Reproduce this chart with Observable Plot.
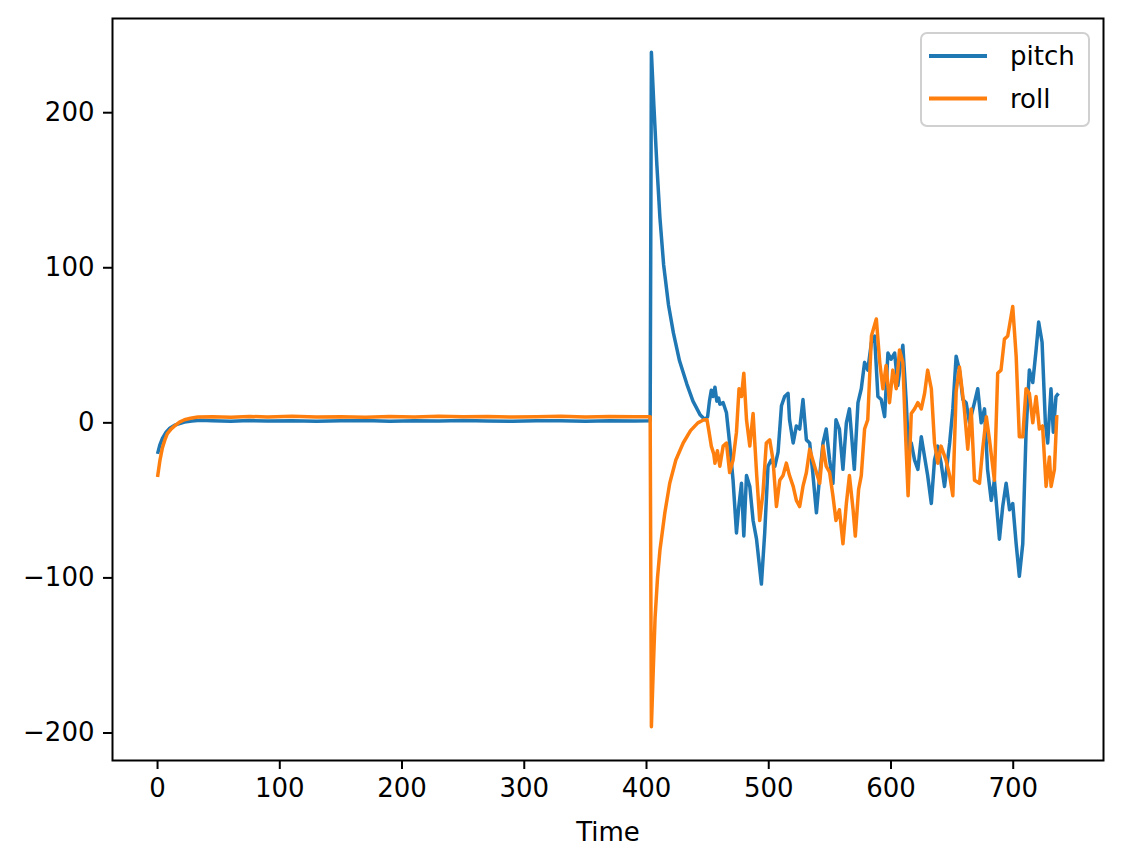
<!DOCTYPE html>
<html><head><meta charset="utf-8">
<script src="https://cdn.jsdelivr.net/npm/d3@7"></script>
<script src="https://cdn.jsdelivr.net/npm/@observablehq/plot@0.6"></script>
<style>body{margin:0;background:#fff}</style>
</head><body><div id="chart"></div>
<script>
const seriesNames = ["pitch", "roll"];
const seriesColors = ["#1f77b4", "#ff7f0e"];
const xTicks = [0, 100, 200, 300, 400, 500, 600, 700];
const yTicks = [-200, -100, 0, 100, 200];
const xLabel = "Time";

const pitch = [[0,-20],[2,-14],[4,-10],[7,-6],[10,-3.5],[14,-1.5],[18,-0.5],[22,0.5],[28,1.2],[35,1.6],[45,1.3],[60,1.1],[75,1.5],[90,1.2],[110,1.4],[130,1.0],[150,1.3],[170,1.5],[190,1.1],[210,1.4],[230,1.2],[250,1.5],[270,1.2],[290,1.0],[310,1.4],[330,1.3],[350,1.1],[370,1.4],[390,1.2],[403,1.3],
[404,239],[406,205],[408.5,166],[411,132],[414,102],[418,76],[422,58],[427,40],[433,25],[438,14],[444,5],[448,2],
[450,4],[451.5,14],[453,21],[454.5,17],[456,23],[457.5,14],[459,16],[460,12],[462.7,13],[465.4,6.5],[468,-13],[470.8,-37],[473.6,-71],[475.5,-54],[477.7,-39],[479.6,-73],[481.8,-34],[484.5,-41],[487.2,-63],[490,-75],[494,-104],[496.7,-71],[499.4,-28],[502,-24],[505,-28],[507.6,-19],[510.4,11],[513,17],[515.8,19],[517,2],[520,-13],[522.6,-2],[525.3,-4],[528,15],[530.8,-11],[533.5,-13],[536,-32],[539,-58],[541.7,-34],[544.4,-13],[547,-4],[549.8,-24],[552.5,-39],[555,2],[557.8,-4],[560.7,-30],[563.5,0],[566,9],[570,-30],[573,13],[575.7,22],[578.4,39],[581,34],[584,52],[586.6,56],[589.3,17],[592,15],[594.8,4],[597.5,45],[600,41],[603,45],[605.6,24],[609.7,50],[612.5,13],[614.4,-19],[616.6,-13],[619.3,-24],[622,-30],[624.8,-9],[627.5,-22],[630,-34],[633,-52],[635.6,-24],[638.3,-15],[641,-26],[643.8,-41],[648,-13],[650.6,9],[653.3,43],[656,34],[658.8,15],[661.5,13],[664.2,0],[668.3,13],[671,22],[673.8,0],[676.5,9],[679,-30],[682,-50],[684.6,-37],[688.7,-75],[691.4,-54],[694.2,-39],[697,-56],[699.6,-52],[702.4,-78],[705,-99],[707.8,-78],[710.5,-6],[713.2,34],[716,26],[718.7,47],[720.8,65],[723.6,52],[726.3,0],[728.2,-13],[730.9,22],[732.8,-6],[735,17],[737,19]];

const roll = [[0,-35],[2,-24],[4,-16],[6,-11],[8,-7],[11,-4],[14,-2],[18,0.5],[22,2],[27,3],[33,3.8],[45,4],[60,3.6],[75,4.1],[90,3.8],[110,4.2],[130,3.7],[150,4.0],[170,3.6],[190,4.1],[210,3.8],[230,4.2],[250,3.9],[270,4.1],[290,3.7],[310,4.0],[330,4.2],[350,3.8],[370,4.1],[390,3.9],[403,4],
[404,-196],[405.5,-160],[407,-126],[409,-100],[411,-82],[415,-58],[419,-39],[424,-24],[430,-13],[436,-5],[442,0],[447,2],[449.5,2],
[451,-5],[453,-15],[455,-20],[456,-26],[458,-18],[460,-28],[462.7,-15],[465.4,-13],[468,-32],[470.8,-24],[473.6,-6],[475.7,22],[477.7,17],[479.6,32],[481.8,2],[484.5,-15],[487.2,6],[490,-32],[492.6,-63],[495.3,-45],[498,-13],[500.8,-11],[503.5,-24],[506.3,-54],[509,-37],[511.7,-34],[514.4,-26],[517,-34],[520,-41],[522.6,-50],[525.3,-54],[528,-41],[530.8,-32],[533.5,-17],[536,-24],[539,-32],[541.7,-39],[544.4,-15],[547,-28],[549.8,-32],[552.5,-47],[555,-63],[557.8,-56],[560.7,-78],[563.5,-52],[566,-34],[569,-56],[570.8,-73],[573.5,-43],[575.7,-34],[578.4,-4],[581,2],[584,56],[588,67],[590.8,39],[593.4,22],[596,37],[598.8,13],[601.5,34],[604.3,22],[607,47],[609.7,39],[612,-9],[614,-47],[616.6,6],[619.3,9],[622,13],[624.8,9],[627.5,19],[630,34],[633,22],[635.6,-13],[638.3,-26],[641,-15],[645,-24],[648,-34],[650.6,-47],[653.3,20],[656,36],[660,9],[662.8,-17],[665.6,9],[668.3,-37],[672.4,-39],[675,-17],[678,4],[680.6,-11],[684.6,-37],[687.3,32],[690,34],[692.8,54],[695.5,56],[699.6,75],[702.4,43],[705,-9],[707.8,-9],[710.5,22],[713.2,19],[716,0],[718.7,17],[721.4,-4],[724,-2],[726.9,-41],[729.6,-22],[731,-41],[733.7,-30],[735.6,4],[737,4]];

const series = [pitch, roll];
const rows = series.flatMap((s, i) => s.map(([t, v]) => ({t, v, name: seriesNames[i]})));

function pad(ext, f = 0.05) { const d = (ext[1] - ext[0]) * f; return [ext[0] - d, ext[1] + d]; }
const xDom = pad(d3.extent(rows, d => d.t));
const yDom = pad(d3.extent(rows, d => d.v));

const W = 1138, H = 864;
const mL = 112, mR = 35, mT = 18, mB = 104;

const chart = Plot.plot({
  width: W, height: H,
  marginLeft: mL, marginRight: mR, marginTop: mT, marginBottom: mB,
  style: {fontFamily: "DejaVu Sans, sans-serif", fontSize: "26px", color: "#000", background: "#fff"},
  x: {domain: xDom},
  y: {domain: yDom},
  marks: [
    Plot.line(rows, {x: "t", y: "v", z: "name", stroke: "name", strokeWidth: 3.5, strokeLinejoin: "round", strokeLinecap: "butt"}),
    Plot.frame({stroke: "#000", strokeWidth: 2}),
    Plot.axisX({ticks: xTicks, tickSize: 9, tickPadding: 9, strokeWidth: 2, label: null, fontSize: 26}),
    Plot.axisY({ticks: yTicks, tickSize: 9, tickPadding: 9, strokeWidth: 2, label: null, fontSize: 26}),
    Plot.text([xLabel], {frameAnchor: "bottom", dy: 72, lineAnchor: "middle", fontSize: 26, fill: "#000"})
  ],
  color: {domain: seriesNames, range: seriesColors}
});
document.getElementById("chart").appendChild(chart);

// legend (upper right, inside axes)
const svg = d3.select(chart);
const lg = svg.append("g");
const lx = W - mR - 182, ly = mT + 15;
lg.append("rect").attr("x", lx).attr("y", ly).attr("width", 168).attr("height", 93).attr("rx", 6)
  .attr("fill", "#fff").attr("fill-opacity", 0.8).attr("stroke", "#d0d0d0").attr("stroke-width", 2);
seriesNames.forEach((n, i) => {
  const cy = ly + 23 + i * 42.5;
  lg.append("line").attr("x1", lx + 8).attr("x2", lx + 66).attr("y1", cy).attr("y2", cy)
    .attr("stroke", seriesColors[i]).attr("stroke-width", 4);
  lg.append("text").attr("x", lx + 89).attr("y", cy + 9).attr("font-size", 26)
    .attr("text-anchor", "start")
    .attr("font-family", "DejaVu Sans, sans-serif").attr("fill", "#000").text(n);
});
</script>
</body></html>
